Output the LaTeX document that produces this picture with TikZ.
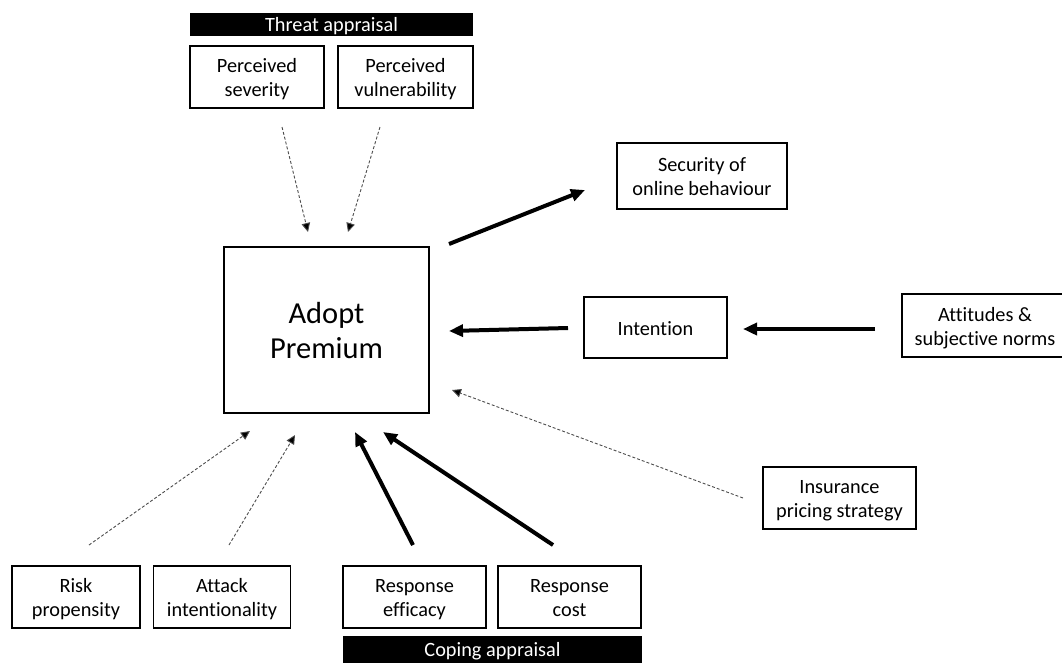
\documentclass[tikz,border=0pt]{standalone}
\usepackage{fontspec}
\setmainfont{Carlito}[Ligatures=NoCommon]
\usetikzlibrary{arrows.meta}

% fixed line struts so that every label sits on the same baselines
\newcommand{\lstrut}{\rule[-4.3pt]{0pt}{24pt}}
\newcommand{\lstrutbig}{\rule[-7pt]{0pt}{35pt}}

\tikzset{
  box/.style={draw=black, line width=1.8pt, fill=white, rectangle, align=center,
    inner sep=0pt, font=\fontsize{20.3}{24}\selectfont},
  bigbox/.style={box, font=\fontsize{30.5}{35}\selectfont},
  band/.style={fill=black, draw=none, rectangle, inner sep=0pt},
  bandtext/.style={text=white, anchor=base, inner sep=0pt, font=\fontsize{20.3}{24}\selectfont},
  strong/.style={line width=4pt, -{Triangle[length=14pt,width=12pt]}},
  weak/.style={line width=0.9pt, draw=black!70, dash pattern=on 3pt off 2pt,
    -{Triangle[length=9pt,width=8.5pt,fill=black]}}
}

\begin{document}
\begin{tikzpicture}[x=1pt, y=-1pt]
  \useasboundingbox (0,0) rectangle (1062,662);
  \clip (0,0) rectangle (1062,662);

  % threat appraisal group
  \node[band, minimum width=283pt, minimum height=23pt] (threatbar) at (331.5,24.5) {};
  \node[bandtext] (threatlbl) at (331.5,31.5) {Threat appraisal};
  \node[box, minimum width=134pt, minimum height=62pt] (sev) at (257,77) {\lstrut Perceived\\\lstrut severity};
  \node[box, minimum width=135pt, minimum height=62pt] (vul) at (405.5,77) {\lstrut Perceived\\\lstrut vulnerability};

  % central behaviour and outcome
  \node[bigbox, minimum width=205pt, minimum height=166pt] (adopt) at (326.5,330) {\lstrutbig Adopt\\\lstrutbig Premium};
  \node[box, minimum width=170pt, minimum height=66pt] (sec) at (702,176) {\lstrut Security of\\\lstrut online behaviour};

  % reasoned action path
  \node[box, minimum width=143pt, minimum height=61pt] (intent) at (655.5,327.5) {\lstrut Intention};
  \node[box, minimum width=166pt, minimum height=63pt] (att) at (985,325.5) {\lstrut Attitudes \&\\\lstrut subjective norms};
  \node[box, minimum width=153pt, minimum height=62pt] (ins) at (839.5,498) {\lstrut Insurance\\\lstrut pricing strategy};

  % lower factors
  \node[box, minimum width=128pt, minimum height=62pt] (risk) at (76,597) {\lstrut Risk\\\lstrut propensity};
  \node[box, minimum width=137pt, minimum height=62pt] (attack) at (222,597) {\lstrut Attack\\\lstrut intentionality};
  \node[box, minimum width=143pt, minimum height=62pt] (eff) at (414.5,597) {\lstrut Response\\\lstrut efficacy};
  \node[box, minimum width=143pt, minimum height=62pt] (cost) at (569.5,597) {\lstrut Response\\\lstrut cost};
  \node[band, minimum width=299pt, minimum height=27pt] (copebar) at (492.5,649.5) {};
  \node[bandtext] (copelbl) at (492.5,656) {Coping appraisal};

  % connector end points
  \coordinate (sev-a) at (282,127);   \coordinate (sev-b) at (308,232);
  \coordinate (vul-a) at (380,127);   \coordinate (vul-b) at (348,232);
  \coordinate (ad-a)  at (449,244);   \coordinate (sec-b) at (585,190);
  \coordinate (in-a)  at (568,328);   \coordinate (ad-b)  at (449,331);
  \coordinate (at-a)  at (875,329);   \coordinate (in-b)  at (743,329);
  \coordinate (ins-a) at (743,498);   \coordinate (ins-b) at (452,390);
  \coordinate (rk-a)  at (89,545);    \coordinate (rk-b)  at (250,431);
  \coordinate (ak-a)  at (229,545);   \coordinate (ak-b)  at (295,435);
  \coordinate (ef-a)  at (413,545);   \coordinate (ef-b)  at (355,432);
  \coordinate (co-a)  at (553,545);   \coordinate (co-b)  at (383,432);

  % connectors
  \draw[weak] (sev-a) -- (sev-b);
  \draw[weak] (vul-a) -- (vul-b);
  \draw[strong] (ad-a) -- (sec-b);
  \draw[strong] (in-a) -- (ad-b);
  \draw[strong] (at-a) -- (in-b);
  \draw[weak] (ins-a) -- (ins-b);
  \draw[weak] (rk-a) -- (rk-b);
  \draw[weak] (ak-a) -- (ak-b);
  \draw[strong] (ef-a) -- (ef-b);
  \draw[strong] (co-a) -- (co-b);
\end{tikzpicture}
\end{document}
